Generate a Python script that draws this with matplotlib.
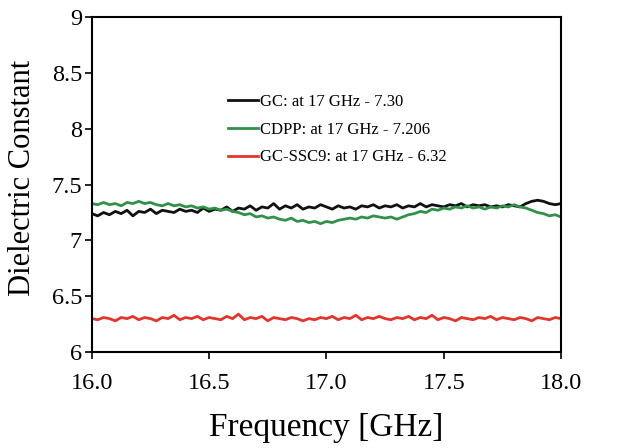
import numpy as np
import matplotlib
matplotlib.use("Agg")
import matplotlib.pyplot as plt

plt.rcParams['font.family'] = ['Liberation Serif', 'DejaVu Serif']

gc_vals = [7.24, 7.22, 7.25, 7.23, 7.26, 7.24, 7.27, 7.22, 7.26, 7.25,
           7.28, 7.24, 7.27, 7.26, 7.25, 7.28, 7.26, 7.27, 7.25, 7.29,
           7.26, 7.28, 7.27, 7.30, 7.26, 7.29, 7.28, 7.31, 7.27, 7.30,
           7.29, 7.33, 7.28, 7.31, 7.29, 7.32, 7.28, 7.30, 7.29, 7.32,
           7.30, 7.28, 7.31, 7.29, 7.30, 7.28, 7.31, 7.30, 7.32, 7.29,
           7.31, 7.30, 7.32, 7.29, 7.31, 7.30, 7.33, 7.30, 7.32, 7.31,
           7.30, 7.32, 7.31, 7.33, 7.30, 7.32, 7.31, 7.32, 7.30, 7.31,
           7.30, 7.32, 7.31, 7.30, 7.33, 7.35, 7.36, 7.35, 7.33, 7.32,
           7.33]

cdpp_vals = [7.33, 7.32, 7.34, 7.32, 7.33, 7.31, 7.34, 7.33, 7.35, 7.33,
             7.34, 7.32, 7.31, 7.33, 7.31, 7.32, 7.30, 7.31, 7.29, 7.30,
             7.28, 7.29, 7.27, 7.28, 7.26, 7.25, 7.23, 7.24, 7.21, 7.22,
             7.20, 7.21, 7.19, 7.18, 7.20, 7.17, 7.18, 7.16, 7.17, 7.15,
             7.17, 7.16, 7.18, 7.19, 7.20, 7.19, 7.21, 7.20, 7.22, 7.21,
             7.20, 7.21, 7.19, 7.21, 7.23, 7.24, 7.26, 7.25, 7.28, 7.27,
             7.29, 7.28, 7.30, 7.29, 7.31, 7.29, 7.30, 7.28, 7.30, 7.29,
             7.31, 7.30, 7.32, 7.30, 7.29, 7.27, 7.25, 7.24, 7.22, 7.23,
             7.21]

ssc9_vals = [6.30, 6.29, 6.31, 6.30, 6.28, 6.31, 6.30, 6.32, 6.29, 6.31,
             6.30, 6.28, 6.31, 6.30, 6.33, 6.29, 6.31, 6.30, 6.32, 6.29,
             6.31, 6.30, 6.29, 6.32, 6.30, 6.34, 6.29, 6.31, 6.30, 6.32,
             6.28, 6.31, 6.30, 6.29, 6.31, 6.30, 6.28, 6.30, 6.29, 6.31,
             6.30, 6.32, 6.29, 6.31, 6.30, 6.33, 6.29, 6.31, 6.30, 6.32,
             6.30, 6.29, 6.31, 6.30, 6.32, 6.29, 6.31, 6.30, 6.33, 6.29,
             6.31, 6.30, 6.28, 6.31, 6.30, 6.29, 6.31, 6.30, 6.32, 6.29,
             6.31, 6.30, 6.29, 6.31, 6.30, 6.28, 6.31, 6.30, 6.29, 6.31,
             6.30]

labels = ["GC: at 17 GHz - 7.30",
          "CDPP: at 17 GHz - 7.206",
          "GC-SSC9: at 17 GHz - 6.32"]
colors = ["#111111", "#33904a", "#e2352b"]

xticks = [16.0, 16.5, 17.0, 17.5, 18.0]
xticklabels = ["16.0", "16.5", "17.0", "17.5", "18.0"]
yticks = [6, 6.5, 7, 7.5, 8, 8.5, 9]
yticklabels = ["6", "6.5", "7", "7.5", "8", "8.5", "9"]

fig = plt.figure(figsize=(6.29, 4.48), dpi=100)
ax = fig.add_axes([0.146, 0.214, 0.746, 0.748])

for vals, lab, col in zip([gc_vals, cdpp_vals, ssc9_vals], labels, colors):
    f = np.linspace(16.0, 18.0, len(vals))
    ax.plot(f, vals, color=col, lw=2.0, label=lab)

ax.set_xlim(16.0, 18.0)
ax.set_ylim(6, 9)
ax.set_xticks(xticks)
ax.set_xticklabels(xticklabels, fontsize=17.5)
ax.set_yticks(yticks)
ax.set_yticklabels(yticklabels, fontsize=17.5)
ax.tick_params(axis='x', direction='out', length=5, width=1.2, pad=10)
ax.tick_params(axis='y', direction='out', length=5, width=1.2, pad=2)
for s in ax.spines.values():
    s.set_linewidth(1.5)

ax.set_xlabel("Frequency [GHz]", fontsize=24, labelpad=13)
ax.set_ylabel("Dielectric Constant", fontsize=22, labelpad=7)
ax.yaxis.set_label_coords(-0.117, 0.52)

leg = ax.legend(loc='upper left', bbox_to_anchor=(0.29, 0.77), frameon=False,
                fontsize=12, handlelength=1.8, handletextpad=0.1,
                labelspacing=0.7, borderpad=0, borderaxespad=0)

fig.savefig("out.png", dpi=100)
